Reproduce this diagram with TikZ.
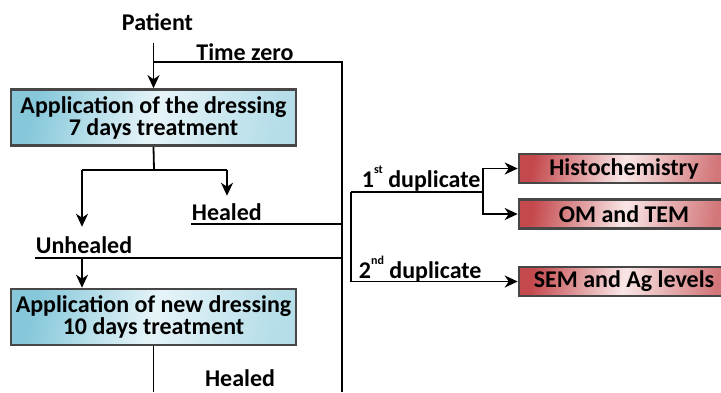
\documentclass[tikz,border=0pt]{standalone}
\usepackage{fontspec}
\setmainfont{Carlito}
\usetikzlibrary{arrows.meta}

\definecolor{dressblue}{HTML}{86C8DA}
\definecolor{dresspale}{HTML}{E6F4F8}
\definecolor{assayred}{HTML}{C4494D}
\definecolor{assaypale}{HTML}{F9E6E6}
\definecolor{rimgray}{HTML}{474747}

\tikzset{every picture/.style={line width=1.8pt}}
\tikzset{
  lbl/.style={inner sep=0pt, text=black, font=\fontsize{24}{22}\selectfont\bfseries},
  dressbox/.style={lbl, draw=rimgray, line width=2.6pt, left color=dressblue, right color=dressblue!60!white, middle color=dresspale, shading angle=75, minimum width=285pt, minimum height=56pt, align=center},
  assaybox/.style={lbl, draw=rimgray, line width=2.6pt, left color=assayred, right color=assayred!75!white, middle color=assaypale, shading angle=80, minimum width=210pt, minimum height=29pt},
  flow/.style={-{Stealth[length=13pt,width=12pt,inset=4pt]}}
}
\newcommand{\ordsup}[1]{\raisebox{0.55em}{\fontsize{12}{12}\selectfont #1}}

\begin{document}
\begin{tikzpicture}[x=1pt,y=1pt,yscale=-1]
\path[use as bounding box, clip] (0,0) rectangle (721,392);

% Text Node
\node[lbl, anchor=base] (patient) at (157.5,30) {Patient};
% Text Node
\node[lbl, anchor=base] (tzero) at (245,60) {Time zero};
%Shape: Rectangle
\node[dressbox] (dress) at (153.5,117.5) {Application of the dressing\\7 days treatment};
% Text Node
\node[lbl, anchor=base west] (healedA) at (191,220) {Healed};
% Text Node
\node[lbl, anchor=base west] (unhealed) at (35,253) {Unhealed};
%Shape: Rectangle
\node[dressbox] (newdress) at (153.5,317) {Application of new dressing\\10 days treatment};
% Text Node
\node[lbl, anchor=base] (healedB) at (240,386) {Healed};
% Text Node
\node[lbl, anchor=base west] (dupA) at (361,187) {1\ordsup{st} duplicate};
% Text Node
\node[lbl, anchor=base west] (dupB) at (358,278) {2\ordsup{nd} duplicate};
%Shape: Rectangle
\node[assaybox] (histo) at (624,168.5) {Histochemistry};
%Shape: Rectangle
\node[assaybox] (omtem) at (624,214) {OM and TEM};
%Shape: Rectangle
\node[assaybox] (semag) at (624,281.5) {SEM and Ag levels};

% branch points
\coordinate (tfork) at (154,62);
\coordinate (trail) at (342,62);
\coordinate (trailend) at (342,392);
\coordinate (split) at (154,170);
\coordinate (splitL) at (82,170);
\coordinate (splitR) at (227,170);
\coordinate (dup0) at (351,192);
\coordinate (dup1) at (483,192);
\path ([yshift=4pt]healedA.base west) coordinate (hline);
\path ([yshift=5pt]unhealed.base west) coordinate (uline);
\coordinate (uhfork) at (uline -| splitL);

%Straight Lines
\draw[flow, shorten <=12pt] (patient.south -| dress.north) -- (dress.north);
\draw (tfork) -- (trail) -- (trailend);
%Straight Lines
\draw (dress.south) -- (split);
\draw (splitL) -- (splitR);
\draw[flow] (splitL) -- ([yshift=-8.5pt]unhealed.north -| splitL);
\draw[flow] (splitR) -- ([yshift=-6.5pt]healedA.north -| splitR);
%Straight Lines
\draw (hline) -- (hline -| trail);
\draw (uline) -- (uline -| trail);
\draw[flow] (uhfork) -- (uhfork |- newdress.north);
\draw (newdress.south) -- (newdress.south |- trailend);
%Straight Lines
\draw (dup0) -- (dup1);
\draw[flow] (dup1) |- (histo.west);
\draw[flow] (dup1) |- (omtem.west);
\draw[flow] (dup0) |- (semag.west);

\end{tikzpicture}
\end{document}
